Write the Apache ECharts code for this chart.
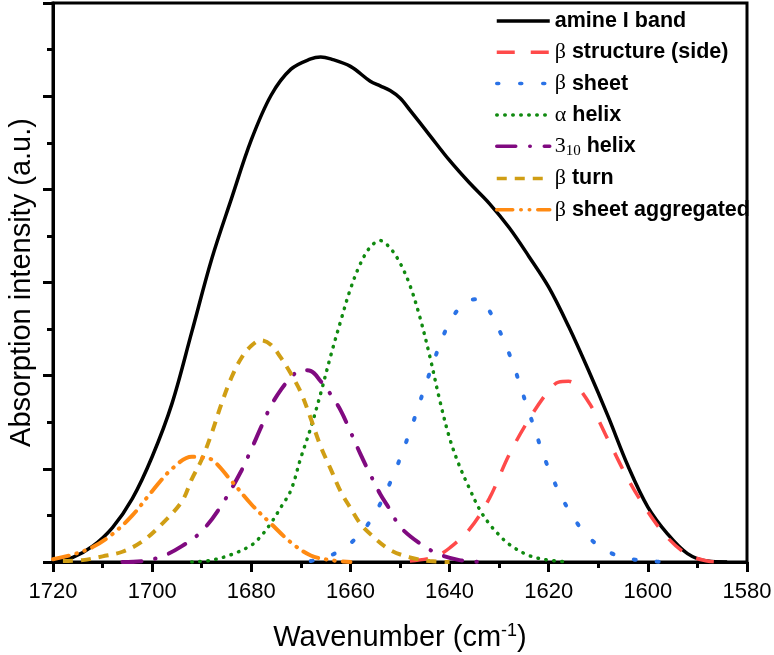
<!DOCTYPE html>
<html>
<head>
<meta charset="utf-8">
<script src="https://cdn.jsdelivr.net/npm/echarts@6/dist/echarts.min.js"></script>
<style>
  html, body { margin: 0; padding: 0; background: #fff; }
  #chart { width: 774px; height: 655px; }
</style>
</head>
<body>
<div id="chart"></div>
<script>
// wavenumber (cm-1) / absorbance
var blackX = [1720, 1716, 1712, 1708, 1704, 1700, 1696, 1692, 1688, 1684, 1680, 1676, 1672, 1668, 1666, 1664, 1660, 1656, 1654, 1652, 1650, 1648, 1644, 1640, 1636, 1632, 1628, 1624, 1620, 1616, 1612, 1608, 1604, 1600, 1596, 1592, 1588, 1584];
var blackY = [0.0, 0.05, 0.17, 0.37, 0.68, 1.13, 1.70, 2.47, 3.25, 3.90, 4.53, 5.01, 5.29, 5.40, 5.42, 5.40, 5.32, 5.16, 5.11, 5.06, 4.98, 4.85, 4.58, 4.31, 4.07, 3.85, 3.59, 3.28, 2.95, 2.53, 2.06, 1.56, 1.03, 0.59, 0.30, 0.09, 0.01, 0];

var redX = [1648, 1644, 1642, 1640, 1636, 1632, 1628, 1624, 1620, 1618, 1616, 1612, 1608, 1604, 1600, 1596, 1592, 1588, 1586];
var redY = [0.01, 0.04, 0.08, 0.15, 0.35, 0.68, 1.15, 1.53, 1.84, 1.93, 1.94, 1.72, 1.31, 0.89, 0.54, 0.26, 0.08, 0.01, 0];

var blueX = [1668, 1664, 1660, 1656, 1652, 1648, 1644, 1640, 1636, 1634, 1632, 1628, 1624, 1620, 1616, 1612, 1608, 1604, 1600, 1596];
var blueY = [0.01, 0.07, 0.20, 0.44, 0.85, 1.40, 2.03, 2.57, 2.81, 2.82, 2.70, 2.24, 1.61, 1.00, 0.56, 0.27, 0.11, 0.04, 0.01, 0];

var greenX = [1692, 1688, 1684, 1680, 1678, 1676, 1674, 1672, 1670, 1668, 1666, 1664, 1662, 1660, 1658, 1656, 1654, 1652, 1650, 1648, 1646, 1644, 1642, 1640, 1638, 1636, 1634, 1632, 1630, 1628, 1624, 1620, 1616];
var greenY = [0, 0.02, 0.08, 0.18, 0.28, 0.42, 0.59, 0.77, 1.12, 1.44, 1.81, 2.21, 2.58, 2.93, 3.20, 3.38, 3.45, 3.37, 3.21, 2.97, 2.63, 2.21, 1.74, 1.33, 1.03, 0.79, 0.57, 0.41, 0.29, 0.19, 0.07, 0.02, 0];

var purpleX = [1706, 1702, 1698, 1694, 1690, 1686, 1682, 1680, 1678, 1676, 1674, 1672, 1670, 1668, 1666, 1664, 1662, 1660, 1658, 1656, 1654, 1652, 1650, 1646, 1642, 1638, 1634];
var purpleY = [0, 0.01, 0.06, 0.17, 0.33, 0.61, 0.98, 1.21, 1.45, 1.68, 1.85, 1.98, 2.06, 2.05, 1.94, 1.80, 1.63, 1.40, 1.16, 0.94, 0.73, 0.56, 0.38, 0.20, 0.08, 0.02, 0];

var goldX = [1718, 1714, 1710, 1706, 1702, 1698, 1694, 1692, 1690, 1688, 1686, 1684, 1682, 1680, 1678, 1676, 1674, 1672, 1670, 1668, 1666, 1664, 1662, 1660, 1658, 1656, 1652, 1648, 1644, 1640];
var goldY = [0.01, 0.02, 0.06, 0.11, 0.22, 0.41, 0.65, 0.89, 1.10, 1.38, 1.70, 1.98, 2.19, 2.32, 2.38, 2.33, 2.19, 2.02, 1.82, 1.54, 1.24, 1.00, 0.76, 0.58, 0.41, 0.30, 0.13, 0.05, 0.01, 0];

var orangeX = [1720, 1716, 1712, 1708, 1704, 1700, 1696, 1692, 1690, 1688, 1684, 1680, 1676, 1672, 1668, 1664, 1660];
var orangeY = [0.03, 0.08, 0.16, 0.30, 0.50, 0.76, 1.00, 1.13, 1.12, 1.10, 0.87, 0.62, 0.41, 0.21, 0.07, 0.02, 0];

var seriesNames = ['amine I band', 'β structure (side)', 'β sheet', 'α helix', '3_10 helix', 'β turn', 'β sheet aggregated'];
var legendLabels = {
  'amine I band': '{b|amine I band}',
  'β structure (side)': '{g|β}{b| structure (side)}',
  'β sheet': '{g|β}{b| sheet}',
  'α helix': '{g|α}{b| helix}',
  '3_10 helix': '{g|3}{sub|10}{b| helix}',
  'β turn': '{g|β}{b| turn}',
  'β sheet aggregated': '{g|β}{b| sheet aggregated}'
};

function pairs(xs, ys) {
  return xs.map(function (x, i) { return [x, ys[i]]; });
}

function line(name, xs, ys, color, width, dash, cap) {
  return {
    name: name,
    type: 'line',
    data: pairs(xs, ys),
    smooth: 0.35,
    symbol: 'none',
    animation: false,
    lineStyle: { color: color, width: width, type: dash, cap: cap || 'butt' },
    itemStyle: { color: color }
  };
}

var chart = echarts.init(document.getElementById('chart'));

chart.setOption({
  backgroundColor: '#fff',
  animation: false,
  grid: {
    left: 53, right: 27, top: 3, bottom: 93,
    outerBoundsMode: 'none',
    show: true, borderColor: '#000', borderWidth: 3
  },
  legend: {
    orient: 'vertical',
    left: 490, top: 5,
    itemWidth: 53, itemHeight: 14, itemGap: 9.3,
    data: seriesNames,
    formatter: function (n) { return legendLabels[n]; },
    itemStyle: { opacity: 0 },
    lineStyle: { width: 3.5 },
    textStyle: {
      color: '#000',
      rich: {
        b: { fontFamily: 'Liberation Sans', fontWeight: 'bold', fontSize: 21.5, lineHeight: 24, color: '#000' },
        g: { fontFamily: 'Liberation Serif', fontSize: 22, lineHeight: 24, color: '#000' },
        sub: { fontFamily: 'Liberation Serif', fontSize: 15, lineHeight: 12, verticalAlign: 'bottom', color: '#000' }
      }
    }
  },
  xAxis: {
    type: 'value',
    inverse: true,
    min: 1580, max: 1720, interval: 20,
    name: 'Wavenumber (cm{sup|-1})',
    nameLocation: 'middle',
    nameGap: 60,
    nameTextStyle: {
      fontFamily: 'Liberation Sans', fontSize: 29, color: '#000', lineHeight: 32,
      rich: { sup: { fontFamily: 'Liberation Sans', fontSize: 18, verticalAlign: 'top', lineHeight: 18, color: '#000' } }
    },
    axisLine: { show: true, lineStyle: { color: '#000', width: 3 } },
    axisTick: { show: true, length: 10, lineStyle: { color: '#000', width: 3 } },
    minorTick: { show: true, splitNumber: 2, length: 6, lineStyle: { color: '#000', width: 3 } },
    axisLabel: {
      fontFamily: 'Liberation Sans', fontSize: 22, color: '#000', margin: 19,
      showMinLabel: true, showMaxLabel: true,
      formatter: function (v) { return String(v); }
    },
    splitLine: { show: false }
  },
  yAxis: {
    type: 'value',
    min: 0, max: 6, interval: 1,
    name: 'Absorption intensity (a.u.)',
    nameLocation: 'middle',
    nameGap: 17,
    nameTextStyle: { fontFamily: 'Liberation Sans', fontSize: 29, color: '#000' },
    axisLine: { show: true, lineStyle: { color: '#000', width: 3 } },
    axisTick: { show: true, length: 10, lineStyle: { color: '#000', width: 3 } },
    minorTick: { show: true, splitNumber: 2, length: 6, lineStyle: { color: '#000', width: 3 } },
    axisLabel: { show: false },
    splitLine: { show: false }
  },
  series: [
    line(seriesNames[0], blackX, blackY, '#000000', 3.5, 'solid'),
    line(seriesNames[1], redX, redY, '#ff4a4a', 3.5, [18, 16]),
    line(seriesNames[2], blueX, blueY, '#2a72e6', 4, [2, 21], 'round'),
    line(seriesNames[3], greenX, greenY, '#108a10', 3.5, [0.5, 7.5], 'round'),
    line(seriesNames[4], purpleX, purpleY, '#800a80', 4, [19, 14, 0.5, 14], 'round'),
    line(seriesNames[5], goldX, goldY, '#d09e14', 4, [10, 8]),
    line(seriesNames[6], orangeX, orangeY, '#ff8a12', 4, [16, 8, 0.5, 8, 0.5, 8], 'round')
  ]
});
</script>
</body>
</html>
